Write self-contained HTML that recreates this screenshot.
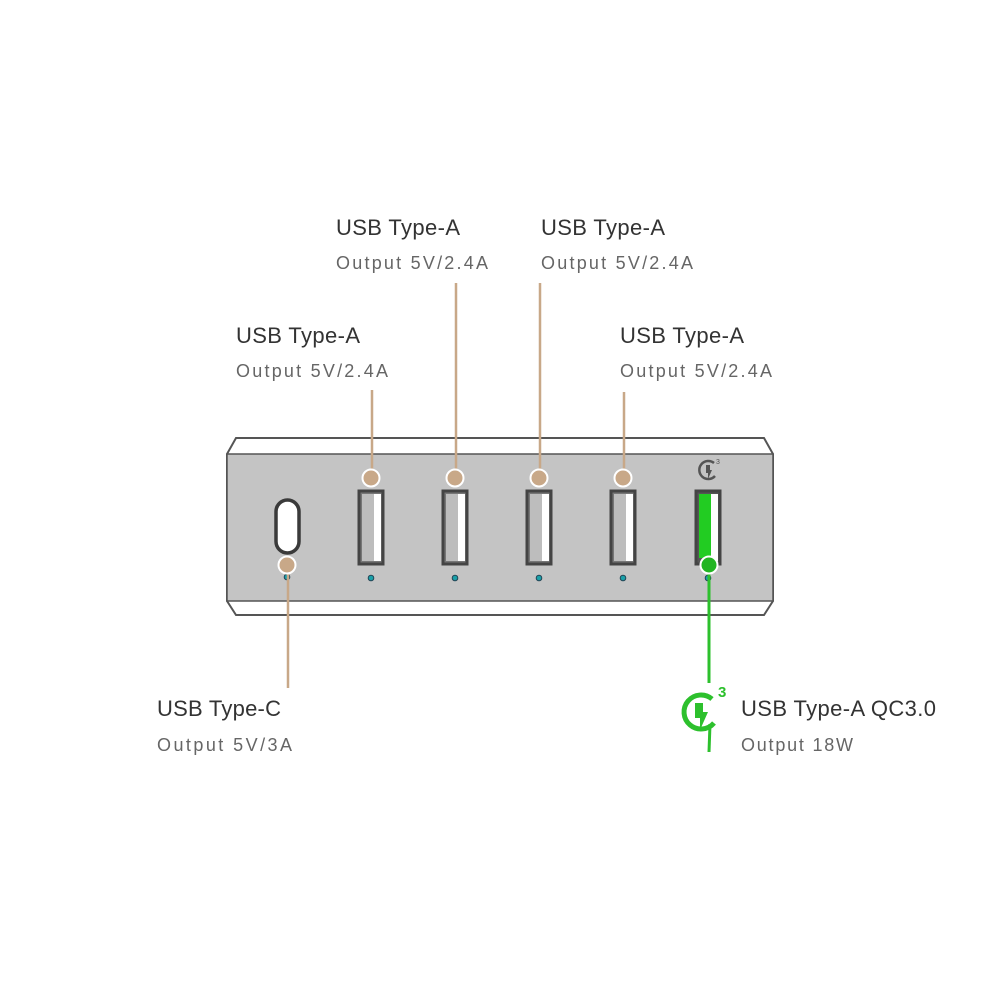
<!DOCTYPE html>
<html><head><meta charset="utf-8"><style>
html,body{margin:0;padding:0;background:#fff;}
svg{display:block}
.t{font-family:"Liberation Sans",sans-serif;font-size:22px;fill:#333;}
.o{font-family:"Liberation Sans",sans-serif;font-size:18px;fill:#666;}
</style></head><body>
<svg width="1000" height="1000" viewBox="0 0 1000 1000" xmlns="http://www.w3.org/2000/svg">
<rect width="1000" height="1000" fill="#fff"/>
<polygon points="236,438 764,438 773,454 773,601 764,615 236,615 227,601 227,454" fill="#fff" stroke="#555" stroke-width="2"/>
<rect x="227" y="454" width="546" height="147" fill="#c4c4c4" stroke="#555" stroke-width="1.5"/>
<rect x="276" y="500" width="23" height="53" rx="11.5" fill="#fff" stroke="#3a3a3a" stroke-width="3.5"/>
<g stroke="#444" stroke-width="3">
<rect x="359" y="491" width="24" height="73" fill="#777"/>
<rect x="443" y="491" width="24" height="73" fill="#777"/>
<rect x="527" y="491" width="24" height="73" fill="#777"/>
<rect x="611" y="491" width="24" height="73" fill="#777"/>
<rect x="696" y="491" width="24" height="73" fill="#555"/>
</g>
<g fill="#bdbdbd"><rect x="362" y="494" width="12" height="67"/><rect x="446" y="494" width="12" height="67"/><rect x="530" y="494" width="12" height="67"/><rect x="614" y="494" width="12" height="67"/></g>
<g fill="#fff"><rect x="374" y="494" width="7" height="67"/><rect x="458" y="494" width="7" height="67"/><rect x="542" y="494" width="7" height="67"/><rect x="626" y="494" width="7" height="67"/><rect x="711" y="494" width="7" height="67"/></g>
<rect x="699" y="494" width="12" height="64" fill="#22cc22"/>
<g fill="#1aa0a8" stroke="#245" stroke-width="1"><circle cx="287" cy="577" r="2.8"/><circle cx="371" cy="578" r="2.8"/><circle cx="455" cy="578" r="2.8"/><circle cx="539" cy="578" r="2.8"/><circle cx="623" cy="578" r="2.8"/><circle cx="708" cy="578" r="2.8"/></g>
<g transform="translate(708,470)"><path d="M6,-7 A9,9 0 1 0 7,6" fill="none" stroke="#555" stroke-width="2.5"/><path d="M-2,-5 L2,-5 L2,0 L4,0 L0,9 L0,3 L-2,3 Z" fill="#555"/><text x="8" y="-6" font-family="Liberation Sans" font-size="7" fill="#555">3</text></g>
<g stroke="#c8a888" stroke-width="2.5"><line x1="372" y1="390" x2="372" y2="478"/><line x1="456" y1="283" x2="456" y2="478"/><line x1="540" y1="283" x2="540" y2="478"/><line x1="624" y1="392" x2="624" y2="478"/><line x1="288" y1="565" x2="288" y2="688"/></g>
<g fill="#c8a888" stroke="#fff" stroke-width="2"><circle cx="371" cy="478" r="8.5"/><circle cx="455" cy="478" r="8.5"/><circle cx="539" cy="478" r="8.5"/><circle cx="623" cy="478" r="8.5"/><circle cx="287" cy="565" r="8.5"/></g>
<line x1="709" y1="565" x2="709" y2="683" stroke="#2dc02d" stroke-width="3"/>
<circle cx="709" cy="565" r="8.5" fill="#22b522" stroke="#fff" stroke-width="2"/>
<g transform="translate(700,712)"><path d="M12,-13 A17,17 0 1 0 14,11" fill="none" stroke="#2dc02d" stroke-width="5"/><path d="M-5,-9 L3,-9 L3,0 L8,0 L0,18 L0,6 L-5,6 Z" fill="#2dc02d"/><line x1="10" y1="12" x2="9" y2="40" stroke="#2dc02d" stroke-width="3"/><text x="18" y="-15" font-family="Liberation Sans" font-weight="bold" font-size="15" fill="#2dc02d">3</text></g>
<text class="t" x="336" y="235" textLength="124">USB Type-A</text><text class="o" x="336" y="269" textLength="152">Output 5V/2.4A</text>
<text class="t" x="541" y="235" textLength="124">USB Type-A</text><text class="o" x="541" y="269" textLength="152">Output 5V/2.4A</text>
<text class="t" x="236" y="343" textLength="124">USB Type-A</text><text class="o" x="236" y="377" textLength="152">Output 5V/2.4A</text>
<text class="t" x="620" y="343" textLength="124">USB Type-A</text><text class="o" x="620" y="377" textLength="152">Output 5V/2.4A</text>
<text class="t" x="157" y="716" textLength="124">USB Type-C</text><text class="o" x="157" y="751" textLength="135">Output 5V/3A</text>
<text class="t" x="741" y="716" textLength="195">USB Type-A QC3.0</text><text class="o" x="741" y="751" textLength="112">Output 18W</text>
</svg>
</body></html>
